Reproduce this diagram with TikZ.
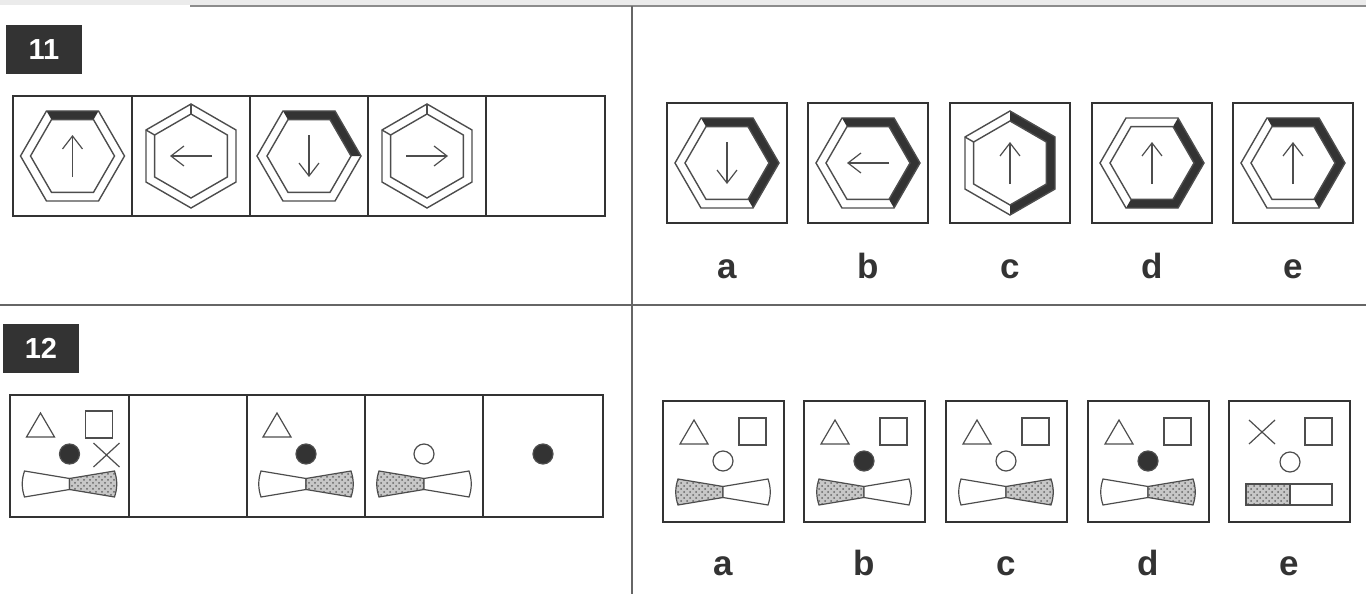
\documentclass[tikz,border=0pt]{standalone}
\usepackage{fontspec}
\setsansfont{Liberation Sans}
\usetikzlibrary{arrows.meta,patterns}

\definecolor{boxink}{HTML}{333333}
\definecolor{lineink}{HTML}{4D4D4D}

% framed hexagon: centre, angle of the first corner
\newcommand{\hexring}[2]{%
  \draw[hexline,shift={(#1)}] (#2:52) \foreach \k in {1,...,5} {-- ({#2+60*\k}:52)} -- cycle
    (#2:42) \foreach \k in {1,...,5} {-- ({#2+60*\k}:42)} -- cycle;}
% black part of the ring: centre, corners round, same corners back
\newcommand{\hexband}[3]{%
  \fill[boxink,shift={(#1)}] plot[samples at={#2}] (\x:52) -- plot[samples at={#3}] (\x:42) -- cycle;}
\newcommand{\hexbevel}[2]{\draw[hexline,shift={(#1)}] (#2:42) -- (#2:52);}
\newcommand{\hexarrow}[2]{\draw[hexarrowline,shift={(#1)}] ({#2+180}:21) -- (#2:21);}

% face parts, all placed from the centre of the ball
\newcommand{\facetri}[1]{\draw[faceline,shift={(#1)}] (-43,-17) -- (-15,-17) -- (-29,-41) -- cycle;}
\newcommand{\facesq}[1]{\draw[faceline,shift={(#1)}] (16,-43) rectangle (43,-16);}
\newcommand{\facex}[1]{\draw[faceline,shift={(#1)}] (-13,-12) -- (13,12) (-13,12) -- (13,-12);}
\newcommand{\faceball}[2]{\draw[faceline,fill=#2,shift={(#1)}] (0,0) circle[radius=10];}
\newcommand{\facebow}[3]{%
  \draw[faceline,#2,shift={(#1)}] (0,-5.5) -- (-45,-13) .. controls (-48,-4) and (-48,4) .. (-45,13) -- (0,5.5) -- cycle;
  \draw[faceline,#3,shift={(#1)}] (0,-5.5) -- (45,-13) .. controls (48,-4) and (48,4) .. (45,13) -- (0,5.5) -- cycle;}

\begin{document}
\begin{tikzpicture}[x=0.5pt,y=-0.5pt,
    hexline/.style={lineink,line width=0.7pt},
    hexarrowline/.style={lineink,line width=0.6pt,-{Straight Barb[length=6.5pt,width=10pt]}},
    faceline/.style={lineink,line width=0.6pt},
    dotfill/.style={preaction={fill=black!22},pattern=crosshatch dots,pattern color=black!60},
    framebox/.style={boxink,line width=1.2pt},
    numbox/.style={fill=boxink,text=white,font=\sffamily\bfseries\fontsize{14.5}{15}\selectfont,
      minimum width=38pt,minimum height=24.5pt,inner sep=0pt},
    letter/.style={font=\sffamily\bfseries\fontsize{17.5}{18}\selectfont,text=boxink,anchor=base}]
  \useasboundingbox (0,0) rectangle (1366,594);
  \fill[black!8] (0,0) rectangle (1366,5);
  \draw[black!45,line width=1pt] (190,6) -- (1366,6);
  \draw[black!60,line width=1.4pt] (632,6) -- (632,594) (0,305) -- (1366,305);

  % 11
  \node[numbox] (num11) at (44,49.5) {11};
  \draw[framebox] (13,96) rectangle (605,216);
  \foreach \x in {132,250,368,486} \draw[framebox] (\x,96) -- (\x,216);
  \hexband{72.5,156}{240,300}{300,240}
  \hexring{72.5,156}{0}
  \hexarrow{72.5,156}{270}
  \hexring{191,156}{30}
  \hexbevel{191,156}{270} \hexbevel{191,156}{210}
  \hexarrow{191,156}{180}
  \hexband{309,156}{240,300,360}{360,300,240}
  \hexring{309,156}{0}
  \hexarrow{309,156}{90}
  \hexring{427,156}{30}
  \hexbevel{427,156}{270} \hexbevel{427,156}{210}
  \hexarrow{427,156}{0}

  \foreach \x in {667,808,950,1092,1233} \draw[framebox] (\x,103) rectangle +(120,120);
  \hexband{727,163}{240,300,360,420}{420,360,300,240}
  \hexring{727,163}{0}
  \hexarrow{727,163}{90}
  \hexband{868,163}{240,300,360,420}{420,360,300,240}
  \hexring{868,163}{0}
  \hexarrow{868,163}{180}
  \hexband{1010,163}{270,330,390,450}{450,390,330,270}
  \hexring{1010,163}{30}
  \hexbevel{1010,163}{210}
  \hexarrow{1010,163}{270}
  \hexband{1152,163}{300,360,420,480}{480,420,360,300}
  \hexring{1152,163}{0}
  \hexarrow{1152,163}{270}
  \hexband{1293,163}{240,300,360,420}{420,360,300,240}
  \hexring{1293,163}{0}
  \hexarrow{1293,163}{270}
  \foreach \x/\t in {727/a,868/b,1010/c,1152/d,1293/e}
    \node[letter] (ans11-\t) at (\x,278.5) {\t};

  % 12
  \node[numbox] (num12) at (41,348) {12};
  \draw[framebox] (10,395) rectangle (603,517);
  \foreach \x in {129,247,365,483} \draw[framebox] (\x,395) -- (\x,517);
  \facetri{69.5,454} \facesq{69.5,454} \faceball{69.5,454}{boxink}
  \facex{106.5,455}
  \facebow{69.5,484}{fill=white}{dotfill}
  \facetri{306,454} \faceball{306,454}{boxink}
  \facebow{306,484}{fill=white}{dotfill}
  \faceball{424,454}{white}
  \facebow{424,484}{dotfill}{fill=white}
  \faceball{543,454}{boxink}

  \foreach \x in {663,804,946,1088,1229} \draw[framebox] (\x,401) rectangle +(121,121);
  \facetri{723,461} \facesq{723,461} \faceball{723,461}{white}
  \facebow{723,492}{dotfill}{fill=white}
  \facetri{864,461} \facesq{864,461} \faceball{864,461}{boxink}
  \facebow{864,492}{dotfill}{fill=white}
  \facetri{1006,461} \facesq{1006,461} \faceball{1006,461}{white}
  \facebow{1006,492}{fill=white}{dotfill}
  \facetri{1148,461} \facesq{1148,461} \faceball{1148,461}{boxink}
  \facebow{1148,492}{fill=white}{dotfill}
  \facex{1262,432} \facesq{1289,461} \faceball{1290,462}{white}
  \draw[faceline,dotfill] (1246,484) rectangle (1290,505);
  \draw[faceline,fill=white] (1290,484) rectangle (1332,505);
  \foreach \x/\t in {723/a,864/b,1006/c,1148/d,1289/e}
    \node[letter] (ans12-\t) at (\x,575) {\t};
\end{tikzpicture}
\end{document}
